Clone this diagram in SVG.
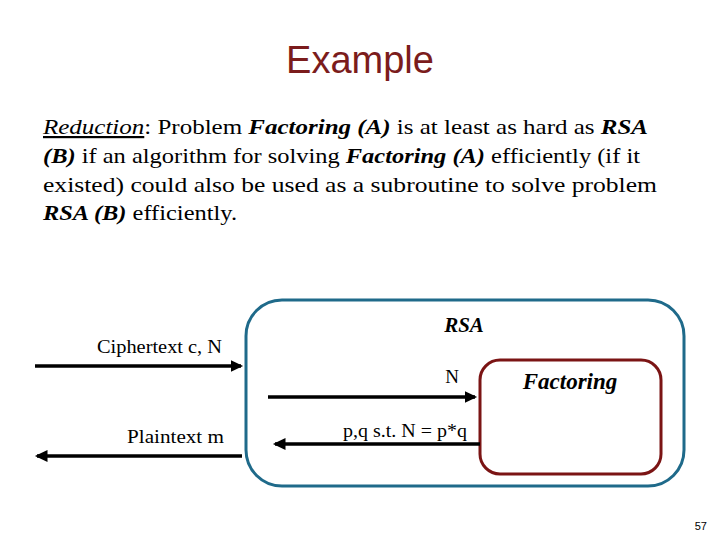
<svg xmlns="http://www.w3.org/2000/svg" width="720" height="540" viewBox="0 0 720 540">
<style>
.body{font-family:"Liberation Serif","DejaVu Serif",serif;font-size:22px;fill:#000}
.bi{font-weight:bold;font-style:italic}
.lbl{font-family:"Liberation Serif","DejaVu Serif",serif;font-size:19px;fill:#000}
.conn{stroke:#000;stroke-width:3.5;fill:none}
</style>
<defs>
<marker id="ah" markerWidth="4" markerHeight="4" refX="3" refY="2" orient="auto" markerUnits="strokeWidth">
<path d="M0,0.3 L3.6,2 L0,3.7 z" fill="#000"/>
</marker>
</defs>
<rect width="720" height="540" fill="#fff"/>
<text x="360" y="73" text-anchor="middle" font-family="Liberation Sans,Arial,sans-serif" font-size="38" fill="#7b1c1c">Example</text>
<text class="body" x="43" y="134" textLength="605" lengthAdjust="spacingAndGlyphs"><tspan font-style="italic" text-decoration="underline">Reduction</tspan>: Problem <tspan class="bi">Factoring (A)</tspan> is at least as hard as <tspan class="bi">RSA</tspan></text>
<text class="body" x="43" y="163" textLength="597" lengthAdjust="spacingAndGlyphs"><tspan class="bi">(B)</tspan> if an algorithm for solving <tspan class="bi">Factoring (A)</tspan> efficiently (if it</text>
<text class="body" x="43" y="192" textLength="614" lengthAdjust="spacingAndGlyphs">existed) could also be used as a subroutine to solve problem</text>
<text class="body" x="43" y="220" textLength="194" lengthAdjust="spacingAndGlyphs"><tspan class="bi">RSA (B)</tspan> efficiently.</text>
<g id="rsa">
<rect x="246" y="300" width="438" height="186" rx="36" fill="none" stroke="#1f6a8a" stroke-width="3"/>
<text x="464" y="332" text-anchor="middle" class="lbl bi" style="font-size:21px">RSA</text>
</g>
<g id="factoring">
<rect x="480" y="360" width="181" height="114" rx="20" fill="none" stroke="#7b1414" stroke-width="3"/>
<text x="570" y="389" text-anchor="middle" class="lbl bi" style="font-size:23px">Factoring</text>
</g>
<g id="connectors">
<line class="conn" x1="35" y1="366" x2="241" y2="366" marker-end="url(#ah)"/>
<line class="conn" x1="268" y1="397" x2="475" y2="397" marker-end="url(#ah)"/>
<line class="conn" x1="480" y1="444" x2="275" y2="444" marker-end="url(#ah)"/>
<line class="conn" x1="242" y1="456" x2="37" y2="456" marker-end="url(#ah)"/>
</g>
<g id="labels">
<text class="lbl" x="222" y="353" text-anchor="end" textLength="125" lengthAdjust="spacingAndGlyphs">Ciphertext c, N</text>
<text class="lbl" x="224" y="443" text-anchor="end" textLength="97" lengthAdjust="spacingAndGlyphs">Plaintext m</text>
<text class="lbl" x="452" y="383" text-anchor="middle">N</text>
<text class="lbl" x="467" y="437" text-anchor="end" textLength="124" lengthAdjust="spacingAndGlyphs">p,q s.t. N = p*q</text>
</g>
<text x="707" y="530" text-anchor="end" font-family="Liberation Sans,Arial,sans-serif" font-size="11" fill="#000">57</text>
</svg>
